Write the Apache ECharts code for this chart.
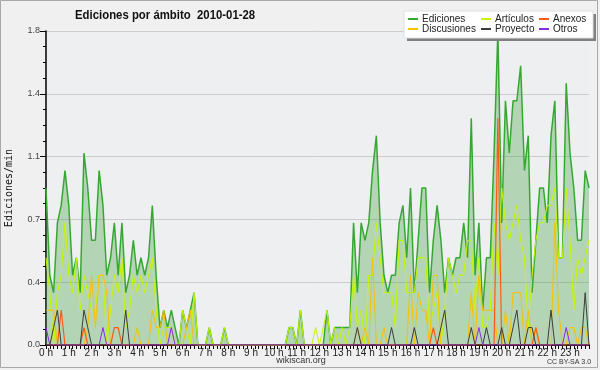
<!DOCTYPE html>
<html><head><meta charset="utf-8">
<script src="https://cdn.jsdelivr.net/npm/echarts@6/dist/echarts.min.js"></script>
<style>html,body{margin:0;padding:0;background:#f0f0f0}#c{width:600px;height:370px}</style>
</head><body><div id="c"></div>
<script>
// Tick labels (hours)
const hourLabels = ['0 h','1 h','2 h','3 h','4 h','5 h','6 h','7 h','8 h','9 h','10 h','11 h','12 h','13 h','14 h','15 h','16 h','17 h','18 h','19 h','20 h','21 h','22 h','23 h'];
// Categories: 10-minute slots of the day
const slots = [];
for (let h = 0; h < 24; h++) for (let m = 0; m < 60; m += 10) slots.push(h + ':' + (m < 10 ? '0' : '') + m);

const ediciones = [0.9,0.4,0.3,0.7,0.8,1.0,0.8,0.4,0.5,0.3,
 1.1,0.9,0.6,0.6,1.0,0.8,0.4,0.5,0.7,0.4,
 0.7,0.3,0.4,0.6,0.4,0.5,0.4,0.5,0.8,0.4,
 0.1,0.2,0.1,0.2,0.1,0,0.2,0.1,0.2,0.3,
 0,0,0,0.1,0,0,0,0.1,0,0,
 0,0,0,0,0,0,0,0,0,0,
 0,0,0,0,0.1,0.1,0,0.2,0,0,
 0,0,0,0,0.2,0,0.1,0.1,0.1,0.1,
 0.1,0.7,0.3,0.7,0.6,0.7,1.0,1.2,0.7,0.4,
 0.3,0.4,0.4,0.7,0.8,0.5,0.9,0.3,0.6,0.9,
 0.9,0.3,0.6,0.8,0.6,0.3,0.5,0.4,0.5,0.5,
 0.7,0.5,1.3,0.4,0.7,0.2,0.5,0.5,1.1,1.8,
 0.7,1.4,1.1,1.4,1.4,1.6,1.0,1.2,0.3,0.6,
 0.9,0.9,0.7,1.2,1.4,0.5,0.5,1.5,1.1,0.9,
 0.6,0.6,1.0,0.9];
const articulos = [0.5,0.3,0,0.3,0.4,0.7,0.4,0.3,0.5,0.2,
 0.4,0.3,0.2,0.2,0.4,0.4,0,0.2,0.4,0.3,
 0.5,0.1,0.2,0.4,0.3,0.4,0.3,0.4,0.5,0.2,
 0,0.1,0.1,0.1,0,0,0.2,0.1,0,0.3,
 0,0,0,0.1,0,0,0,0.1,0,0,
 0,0,0,0,0,0,0,0,0,0,
 0,0,0,0,0.1,0.1,0,0.2,0,0,
 0,0.1,0,0.1,0.2,0,0.1,0,0.1,0,
 0.1,0.4,0.1,0.2,0,0.4,0.4,0.7,0.5,0.3,
 0.3,0.3,0.1,0.6,0.6,0.3,0.3,0.3,0.5,0.5,
 0.5,0.1,0.2,0.3,0,0.2,0.5,0.4,0.3,0.4,
 0.4,0.6,0.6,0.2,0.5,0.1,0.1,0.2,0.7,0.4,
 0.9,0.7,0.6,0.7,0.8,0.6,0.5,0.1,0.4,0.6,
 0.7,0.7,0.8,0.8,0.9,0.5,0.5,0.9,0.6,0.2,
 0.5,0.4,0.5,0.6];
const discusiones = [0.2,0.2,0.2,0,0,0,0,0,0,0,
 0,0.1,0.4,0.1,0.4,0.4,0.3,0,0,0,
 0,0,0,0,0.1,0,0,0,0.2,0.1,
 0.1,0.2,0,0,0,0,0,0.1,0.2,0,
 0,0,0,0,0,0,0,0,0,0,
 0,0,0,0,0,0,0,0,0,0,
 0,0,0,0,0,0,0,0,0,0,
 0,0,0,0,0,0,0,0,0,0,
 0,0,0.1,0,0.1,0,0.5,0,0,0.1,
 0,0,0,0,0,0,0.4,0,0.3,0.2,
 0.2,0,0.4,0.4,0,0,0,0,0,0,
 0,0,0.3,0,0.4,0.2,0.2,0.2,0.2,0,
 0,0.2,0,0.3,0.3,0.3,0,0.2,0,0.1,
 0,0,0,0,0.7,0.2,0,0,0.1,0.1,
 0,0.1,0.1,0];
const anexos = [0,0,0,0,0.2,0,0,0,0,0,
 0.1,0,0,0,0,0,0,0,0.1,0.1,
 0,0,0,0,0,0,0,0,0,0,
 0,0,0,0,0,0,0,0,0,0,
 0,0,0,0,0,0,0,0,0,0,
 0,0,0,0,0,0,0,0,0,0,
 0,0,0,0,0,0,0,0,0,0,
 0,0,0,0,0,0,0,0,0,0,
 0,0,0,0,0,0,0,0,0,0,
 0,0,0,0,0,0,0,0,0,0,
 0,0,0.1,0,0,0,0,0,0,0,
 0,0,0,0,0,0,0,0,0,1.3,
 0,0,0,0,0,0,0,0,0,0.1,
 0,0,0,0,0,0,0,0,0,0,
 0,0,0,0];
const proyecto = [0,0,0.1,0.2,0,0,0,0,0,0,
 0.2,0.1,0,0,0,0,0,0,0,0,
 0,0.2,0,0,0,0,0,0,0,0,
 0,0,0,0,0,0,0,0,0,0,
 0,0,0,0,0,0,0,0,0,0,
 0,0,0,0,0,0,0,0,0,0,
 0,0,0,0,0,0,0,0,0,0,
 0,0,0,0,0,0,0,0,0,0,
 0,0,0.1,0,0,0,0,0,0,0,
 0,0.1,0,0,0,0,0,0.1,0,0,
 0,0,0,0,0.1,0.2,0,0,0,0,
 0,0,0.1,0,0,0,0.1,0,0,0,
 0.1,0,0,0.1,0.2,0,0,0.1,0.1,0,
 0,0,0,0.2,0,0,0,0,0,0,
 0,0,0.3,0];
const otros = [0.1,0,0,0,0,0,0,0,0,0,
 0,0,0,0,0,0.1,0,0,0,0,
 0,0,0,0,0,0,0,0,0,0,
 0,0,0,0.1,0,0,0,0,0,0,
 0,0,0,0,0,0,0,0,0,0,
 0,0,0,0,0,0,0,0,0,0,
 0,0,0,0,0,0,0,0,0,0,
 0,0,0,0,0,0,0,0,0,0,
 0,0,0,0,0,0,0,0,0,0,
 0,0,0,0,0,0,0,0,0,0,
 0,0,0,0,0,0,0,0,0,0,
 0,0,0,0,0.1,0,0,0,0,0,
 0,0,0,0,0,0,0,0,0,0,
 0,0,0,0,0,0,0,0.1,0,0,
 0,0,0,0];

const colors = {Ediciones:'#36a832', 'Artículos':'#c8f500', Anexos:'#ff5a14', Discusiones:'#f7c000', Proyecto:'#3c3c3c', Otros:'#8a2be2'};

const chart = echarts.init(document.getElementById('c'), null, {renderer:'canvas'});
const font = 'Liberation Sans, Arial, sans-serif';
function lineSeries(name, data, z, w) {
  return {name, type:'line', data, symbol:'none', z, lineStyle:{color:colors[name], width:w}, itemStyle:{color:colors[name]}, animation:false};
}
const legendPos = [
  ['Ediciones',408,14],['Artículos',481,14],['Anexos',539,14],
  ['Discusiones',408,24],['Proyecto',481,24],['Otros',539,24]
];
chart.setOption({
  backgroundColor:'#f0f0f0',
  animation:false,
  grid:{left:46, right:11, top:31, bottom:25, show:true, backgroundColor:'#eeeff1', borderWidth:0, containLabel:false, outerBoundsMode:'none'},
  xAxis:{type:'category', data:slots, boundaryGap:false,
    axisLine:{lineStyle:{color:'#000', width:2}},
    axisTick:{interval:0, length:4, lineStyle:{color:'#000'}},
    axisLabel:{interval:(i)=>i%6===0, formatter:(v,i)=>hourLabels[i/6], color:'#222', fontFamily:font, fontSize:10, margin:3},
    splitLine:{show:false}},
  yAxis:{type:'value', min:0, max:1.8, interval:0.36,
    axisLine:{show:true, lineStyle:{color:'#000', width:1.5}},
    axisTick:{show:true, length:6, lineStyle:{color:'#000'}},
    minorTick:{show:true, splitNumber:4, length:3, lineStyle:{color:'#000'}},
    axisLabel:{formatter:(v)=>v.toFixed(1), color:'#444', fontFamily:font, fontSize:9, margin:6},
    splitLine:{lineStyle:{color:'#cccccc', width:1}},
    name:'Ediciones/min', nameLocation:'middle', nameGap:32, nameRotate:90,
    nameTextStyle:{fontFamily:'DejaVu Sans Mono, monospace', fontSize:10, color:'#111'}},
  legend: legendPos.map(([n,x,y])=>({data:[n], left:x, top:y, padding:0, itemWidth:10, itemHeight:2, icon:'rect', itemGap:0,
    textStyle:{fontFamily:font, fontSize:10, color:'#222', padding:[0,0,0,-1]}, selectedMode:false, z:20})),
  graphic:[
    {type:'rect', shape:{x:0.5,y:0.5,width:597,height:367}, style:{fill:null, stroke:'#a8a8a8', lineWidth:1}, z:0, silent:true},
    {type:'rect', shape:{x:407,y:14,width:189,height:27}, style:{fill:'#808080'}, z:10, silent:true},
    {type:'rect', shape:{x:404,y:11,width:189,height:27}, style:{fill:'#ffffff', stroke:'#e0e0e0', lineWidth:1}, z:11, silent:true},
    {type:'text', x:75, y:9, scaleX:0.875, style:{text:'Ediciones por ámbito  2010-01-28', font:'bold 13px '+font, fill:'#111'}, z:12},
    {type:'text', x:301, y:356, style:{text:'wikiscan.org', font:'9px '+font, fill:'#333', align:'center'}, z:12},
    {type:'text', x:569, y:359, style:{text:'CC BY-SA 3.0', font:'7px '+font, fill:'#333', align:'center'}, z:12}
  ],
  series:[
    Object.assign(lineSeries('Ediciones', ediciones, 2, 1.5), {areaStyle:{color:'rgba(56,160,56,0.46)'}}),
    lineSeries('Artículos', articulos, 3, 1),
    lineSeries('Discusiones', discusiones, 4, 1),
    lineSeries('Anexos', anexos, 5, 1.2),
    lineSeries('Proyecto', proyecto, 6, 1),
    lineSeries('Otros', otros, 7, 1)
  ]
});
</script></body></html>
